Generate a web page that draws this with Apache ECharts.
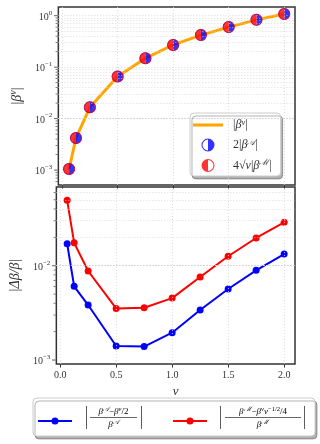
<!DOCTYPE html>
<html>
<head>
<meta charset="utf-8">
<script src="https://cdn.jsdelivr.net/npm/echarts@6/dist/echarts.min.js"></script>
<style>
html,body{margin:0;padding:0;background:#fff}
#chart{width:320px;height:444px}
</style>
</head>
<body>
<div id="chart"></div>
<script>
// data
var vs = [0.0625, 0.125, 0.25, 0.5, 0.75, 1.0, 1.25, 1.5, 1.75, 2.0];
var betaV = [0.00105, 0.0042, 0.0166, 0.066, 0.149, 0.27, 0.42, 0.60, 0.83, 1.08];
var betaA2 = [0.00105, 0.0042, 0.0166, 0.066, 0.149, 0.27, 0.42, 0.60, 0.83, 1.08];
var betaM4 = [0.00105, 0.0042, 0.0166, 0.066, 0.149, 0.27, 0.42, 0.60, 0.83, 1.08];
var relErrA = [0.0171, 0.00605, 0.00383, 0.00141, 0.00139, 0.00195, 0.00339, 0.00567, 0.00893, 0.0133];
var relErrM = [0.0494, 0.0175, 0.0088, 0.00353, 0.00359, 0.00454, 0.0076, 0.0126, 0.0197, 0.0289];

// axis ticks
var xTicks = [0, 0.5, 1, 1.5, 2];
var topMajor = [0.001, 0.01, 0.1, 1];
var topMinor = [0.0006, 0.0007, 0.0008, 0.0009,
  0.002, 0.003, 0.004, 0.005, 0.006, 0.007, 0.008, 0.009,
  0.02, 0.03, 0.04, 0.05, 0.06, 0.07, 0.08, 0.09,
  0.2, 0.3, 0.4, 0.5, 0.6, 0.7, 0.8, 0.9];
var botMajor = [0.001, 0.01];
var botMinor = [0.002, 0.003, 0.004, 0.005, 0.006, 0.007, 0.008, 0.009,
  0.02, 0.03, 0.04, 0.05, 0.06];

var XMIN = -0.034, XMAX = 2.097;
var TOP_MIN = Math.pow(10, -3.29), TOP_MAX = Math.pow(10, 0.169);
var BOT_MIN = Math.pow(10, -3.042), BOT_MAX = Math.pow(10, -1.165);

var FONT = 'Liberation Serif';
var INK = '#333';
var GRIDC = '#d4d4d4';

// half filled circles (ring + one half)
var halfRight = 'path://M10,0A10,10,0,1,1,10,20A10,10,0,1,1,10,0ZM10,1.6A8.4,8.4,0,0,0,10,18.4L10,1.6Z';
var halfLeft = 'path://M10,0A10,10,0,1,1,10,20A10,10,0,1,1,10,0ZM10,1.6L10,18.4A8.4,8.4,0,0,0,10,1.6Z';
var lineIcon = 'path://M0,0L30,0L30,3L0,3Z';

function pairs(xs, ys) { return xs.map(function (x, i) { return [x, ys[i]]; }); }

var supRich = {
  b: { fontFamily: FONT, fontSize: 10, color: INK, lineHeight: 13, verticalAlign: 'bottom' },
  s: { fontFamily: FONT, fontSize: 7, color: INK, lineHeight: 7, verticalAlign: 'top' }
};
function powLabel(v) {
  var l = Math.log10(v), e = Math.round(l);
  if (Math.abs(l - e) > 0.01) return '';
  return '{b|10}{s|' + (e < 0 ? '\u2212' + (-e) : e) + '}';
}

function gridLines(major, minor) {
  var d = [];
  major.concat(minor).forEach(function (v) { d.push({ yAxis: v }); });
  xTicks.forEach(function (v) { d.push({ xAxis: v }); });
  return d;
}
function tickSeries(xi, yi, vals, len, w, lines) {
  var s = {
    type: 'scatter', xAxisIndex: xi, yAxisIndex: yi, silent: true, clip: false, z: 1,
    symbol: 'rect', symbolSize: [len, w], symbolOffset: [-(len / 2 + 0.8), 0],
    itemStyle: { color: INK }, data: vals.map(function (v) { return [XMIN, v]; }),
    animation: false
  };
  if (lines) {
    s.markLine = {
      silent: true, symbol: 'none', animation: false, label: { show: false },
      lineStyle: { type: [1, 2], color: GRIDC, width: 0.8 }, data: lines
    };
  }
  return s;
}

var chart = echarts.init(document.getElementById('chart'), null, { renderer: 'canvas' });

var legendRich = {
  t: { fontFamily: FONT, fontSize: 12, color: INK, lineHeight: 14, verticalAlign: 'middle' },
  i: { fontFamily: FONT, fontSize: 12, fontStyle: 'italic', color: INK, lineHeight: 14, verticalAlign: 'middle' },
  s: { fontFamily: FONT, fontSize: 8.5, fontStyle: 'italic', color: INK, lineHeight: 8, verticalAlign: 'top' },
  g: { width: 5 }
};
var legendText = {
  bv: '{g|}{t||}{i|\u03b2}{s|v}{t||}',
  bA: '{g|}{t|2|}{i|\u03b2}{s|\ud835\udc9c}{t||}',
  bM: '{g|}{t|4\u221a}{i|v}{t||}{i|\u03b2}{s|\u2133}{t||}'
};

function txt(x, y, text, align, rich) {
  return { type: 'text', x: x, y: y, silent: true,
    style: { text: text, align: align || 'center', verticalAlign: 'middle', rich: rich } };
}
var fr = {
  n: { fontFamily: FONT, fontSize: 9, color: INK, lineHeight: 11, verticalAlign: 'bottom' },
  ni: { fontFamily: FONT, fontSize: 9, fontStyle: 'italic', color: INK, lineHeight: 11, verticalAlign: 'bottom' },
  s: { fontFamily: FONT, fontSize: 6.5, fontStyle: 'italic', color: INK, lineHeight: 6, verticalAlign: 'top' },
  sn: { fontFamily: FONT, fontSize: 6.5, color: INK, lineHeight: 6, verticalAlign: 'top' }
};
function bar(x, y, w, h) {
  return { type: 'rect', silent: true, shape: { x: x, y: y, width: w, height: h }, style: { fill: INK } };
}

var option = {
  backgroundColor: '#fff',
  animation: false,
  grid: [
    { left: 51, top: 7, width: 244, height: 178, show: true, borderColor: INK, borderWidth: 1.5, backgroundColor: 'transparent' },
    { left: 51, top: 187, width: 244, height: 177, show: true, borderColor: INK, borderWidth: 1.5, backgroundColor: 'transparent' }
  ],
  xAxis: [
    { gridIndex: 0, type: 'value', min: XMIN, max: XMAX,
      axisLine: { show: false }, splitLine: { show: false },
      axisLabel: { show: false, customValues: xTicks },
      axisTick: { customValues: xTicks, length: 3.5, lineStyle: { color: INK, width: 1 } } },
    { gridIndex: 1, type: 'value', min: XMIN, max: XMAX,
      axisLine: { show: false }, splitLine: { show: false },
      axisLabel: { customValues: xTicks, margin: 6, fontFamily: FONT, fontSize: 10, color: INK,
        formatter: function (v) { return v.toFixed(1); } },
      axisTick: { customValues: xTicks, length: 3.5, lineStyle: { color: INK, width: 1 } },
      name: 'v', nameLocation: 'middle', nameGap: 21,
      nameTextStyle: { fontFamily: FONT, fontSize: 13, fontStyle: 'italic', color: INK } }
  ],
  yAxis: [
    { gridIndex: 0, type: 'log', logBase: 10, min: TOP_MIN, max: TOP_MAX,
      axisLine: { show: false }, splitLine: { show: false }, axisTick: { show: false },
      axisLabel: { margin: 6, formatter: powLabel, rich: supRich },
      name: '{t||}{i|\u03b2}{s|v}{t||}', nameLocation: 'middle', nameGap: 30, nameRotate: 90,
      nameTextStyle: { rich: {
        t: { fontFamily: FONT, fontSize: 14, color: INK, lineHeight: 18, verticalAlign: 'middle' },
        i: { fontFamily: FONT, fontSize: 14, fontStyle: 'italic', color: INK, lineHeight: 18, verticalAlign: 'middle' },
        s: { fontFamily: FONT, fontSize: 10, fontStyle: 'italic', color: INK, lineHeight: 10, verticalAlign: 'top' } } } },
    { gridIndex: 1, type: 'log', logBase: 10, min: BOT_MIN, max: BOT_MAX,
      axisLine: { show: false }, splitLine: { show: false }, axisTick: { show: false },
      axisLabel: { margin: 6, formatter: powLabel, rich: supRich },
      name: '|\u0394\u03b2/\u03b2|', nameLocation: 'middle', nameGap: 30, nameRotate: 90,
      nameTextStyle: { fontFamily: FONT, fontSize: 14, fontStyle: 'italic', color: INK } }
  ],
  legend: {
    orient: 'vertical', left: 190, top: 113, width: 100,
    padding: [5, 9, 4, 3], itemGap: 7, itemWidth: 30, itemHeight: 13,
    backgroundColor: '#fff', borderColor: '#ccc', borderWidth: 1, borderRadius: 4,
    shadowColor: 'rgba(0,0,0,0.3)', shadowOffsetX: 2, shadowOffsetY: 3, shadowBlur: 0,
    selectedMode: false,
    data: [
      { name: 'bv', icon: lineIcon },
      { name: 'bA', icon: halfRight },
      { name: 'bM', icon: halfLeft }
    ],
    formatter: function (n) { return legendText[n]; },
    textStyle: { rich: legendRich }
  },
  graphic: [
    { type: 'rect', silent: true, shape: { x: 33, y: 398, width: 282, height: 38, r: 4 },
      style: { fill: '#fff', stroke: '#ccc', lineWidth: 1, shadowColor: 'rgba(0,0,0,0.3)', shadowOffsetX: 2, shadowOffsetY: 3 } },
    { type: 'line', silent: true, shape: { x1: 38, y1: 421, x2: 72, y2: 421 }, style: { stroke: '#0000ff', lineWidth: 2 } },
    { type: 'circle', silent: true, shape: { cx: 55, cy: 421, r: 3.5 }, style: { fill: '#0000ff' } },
    { type: 'line', silent: true, shape: { x1: 173, y1: 421, x2: 207, y2: 421 }, style: { stroke: '#ff0000', lineWidth: 2 } },
    { type: 'circle', silent: true, shape: { cx: 190, cy: 421, r: 3.5 }, style: { fill: '#ff0000' } },
    // blue fraction
    bar(86, 406, 0.8, 23), bar(141, 406, 0.8, 23), bar(90, 417, 47, 0.7),
    txt(113.5, 411, '{ni|\u03b2}{s|\ud835\udc9c}{n|\u2212}{ni|\u03b2}{s|v}{n|/2}', 'center', fr),
    txt(113.5, 424, '{ni|\u03b2}{s|\ud835\udc9c}', 'center', fr),
    // red fraction
    bar(220, 406, 0.8, 23), bar(304, 406, 0.8, 23), bar(225, 417, 76, 0.7),
    txt(263, 411, '{ni|\u03b2}{s|\u2133}{n|\u2212}{ni|\u03b2}{s|v}{ni|v}{sn|\u22121/2}{n|/4}', 'center', fr),
    txt(263, 424, '{ni|\u03b2}{s|\u2133}', 'center', fr)
  ],
  series: [
    tickSeries(0, 0, topMajor, 3.5, 1, gridLines(topMajor, topMinor)),
    tickSeries(0, 0, topMinor, 2, 0.8),
    tickSeries(1, 1, botMajor, 3.5, 1, gridLines(botMajor, botMinor)),
    tickSeries(1, 1, botMinor, 2, 0.8),
    { name: 'bv', type: 'line', xAxisIndex: 0, yAxisIndex: 0, data: pairs(vs, betaV),
      symbol: 'none', clip: false, z: 3, color: '#ffa500', lineStyle: { color: '#ffa500', width: 3 } },
    { name: 'bA', type: 'scatter', xAxisIndex: 0, yAxisIndex: 0, data: pairs(vs, betaA2),
      symbol: halfRight, symbolSize: 12, clip: false, z: 4, itemStyle: { color: '#0000ff' } },
    { name: 'bM', type: 'scatter', xAxisIndex: 0, yAxisIndex: 0, data: pairs(vs, betaM4),
      symbol: halfLeft, symbolSize: 12, clip: false, z: 5, itemStyle: { color: '#ff0000' } },
    { name: 'errA', type: 'line', xAxisIndex: 1, yAxisIndex: 1, data: pairs(vs, relErrA),
      symbol: 'circle', symbolSize: 7, showSymbol: true, clip: false, z: 3,
      itemStyle: { color: '#0000ff' }, lineStyle: { color: '#0000ff', width: 2 } },
    { name: 'errM', type: 'line', xAxisIndex: 1, yAxisIndex: 1, data: pairs(vs, relErrM),
      symbol: 'circle', symbolSize: 7, showSymbol: true, clip: false, z: 3,
      itemStyle: { color: '#ff0000' }, lineStyle: { color: '#ff0000', width: 2 } }
  ]
};
chart.setOption(option);
</script>
</body>
</html>
